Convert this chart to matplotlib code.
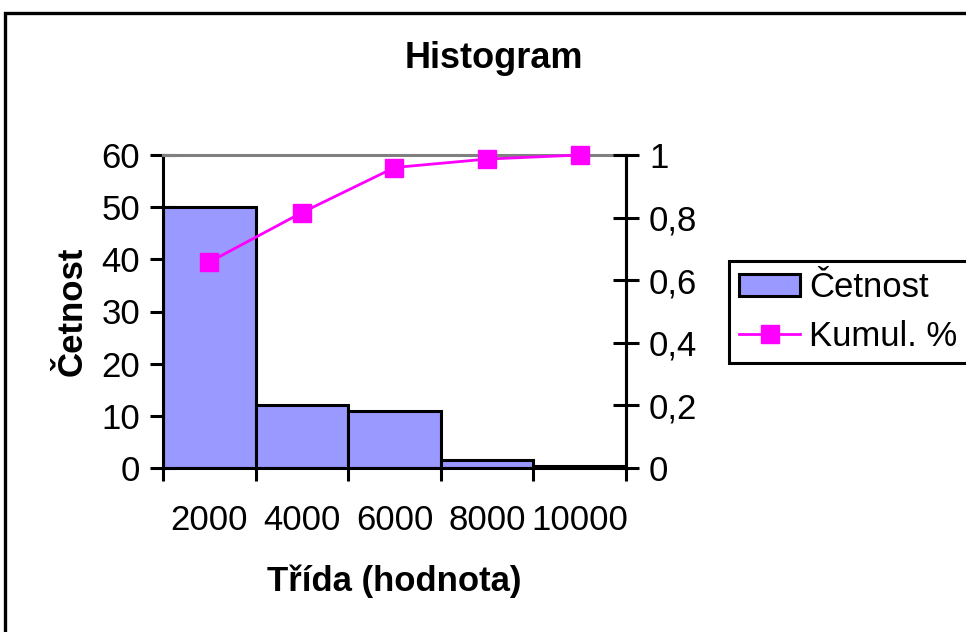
import matplotlib
matplotlib.use("Agg")
import matplotlib.pyplot as plt
from matplotlib.patches import Rectangle, Patch
from matplotlib.lines import Line2D

plt.rcParams['font.family'] = ['Liberation Sans', 'DejaVu Sans']

# Histogram data
classes = ["2000", "4000", "6000", "8000", "10000"]
counts = [50, 12, 11, 1.5, 0.4]
cumulative = [0.658, 0.816, 0.96, 0.987, 1.0]
left_ticks = [0, 10, 20, 30, 40, 50, 60]
right_ticks = [0, 0.2, 0.4, 0.6, 0.8, 1.0]
right_labels = ["0", "0,2", "0,4", "0,6", "0,8", "1"]

W, H = 966, 632
fig = plt.figure(figsize=(W / 100, H / 100), dpi=100)
FS = 25

# outer chart frame
fig.patches.append(Rectangle((5 / W, -0.1), 1.2, 1 - 13 / H + 0.1,
                             transform=fig.transFigure, fill=False,
                             edgecolor="black", linewidth=2.4))

x0, x1, y0, y1 = 163, 626, 155, 468
ax = fig.add_axes([x0 / W, 1 - y1 / H, (x1 - x0) / W, (y1 - y0) / H])
pos = list(range(len(classes)))
ax.bar(pos, counts, width=1.0, color="#9999FF", edgecolor="black",
       linewidth=2.2, zorder=2)
ax.set_xlim(-0.5, len(classes) - 0.5)
ax.set_ylim(0, 60)
ax.set_yticks(left_ticks)
ax.tick_params(axis="y", direction="inout", length=19, width=2.2,
               labelsize=FS, pad=7)
ax.set_xticks(pos)
ax.set_xticklabels(classes)
ax.set_xticks([p - 0.5 for p in pos] + [len(classes) - 0.5], minor=True)
ax.tick_params(axis="x", which="major", length=0, labelsize=FS, pad=26)
ax.tick_params(axis="x", which="minor", direction="out", length=9, width=2.2)
for s in ("left", "bottom", "right"):
    ax.spines[s].set_linewidth(2.2)
ax.spines["top"].set_color("#808080")
ax.spines["top"].set_linewidth(2.2)
ax.set_ylabel("Četnost", fontsize=FS, fontweight="bold", labelpad=9)
ax.set_xlabel("Třída (hodnota)", fontsize=FS, fontweight="bold", labelpad=20)

ax2 = ax.twinx()
ax2.plot(pos, cumulative, color="#FF00FF", linewidth=2, marker="s",
         markersize=13, zorder=3, clip_on=False)
ax2.set_ylim(0, 1)
ax2.set_yticks(right_ticks)
ax2.set_yticklabels(right_labels)
ax2.tick_params(axis="y", direction="inout", length=19, width=2.2,
                labelsize=FS, pad=7)
for s in ax2.spines.values():
    s.set_visible(False)
ax2.spines["right"].set_visible(True)
ax2.spines["right"].set_linewidth(2.2)

fig.text(494 / W, 1 - 58 / H, "Histogram", fontsize=26, fontweight="bold",
         ha="center", va="center")

handles = [Patch(facecolor="#9999FF", edgecolor="black", linewidth=2.2),
           Line2D([], [], color="#FF00FF", linewidth=2, marker="s",
                  markersize=13)]
leg = fig.legend(handles, ["Četnost", "Kumul. %"], loc="upper left",
                 bbox_to_anchor=(729 / W, 1 - 261 / H), borderaxespad=0,
                 fontsize=FS, frameon=True, fancybox=False,
                 handlelength=1.75, handleheight=0.6, handletextpad=0.25,
                 labelspacing=0.45, borderpad=0.3)
leg.get_frame().set_edgecolor("black")
leg.get_frame().set_linewidth(2.2)
leg.get_frame().set_alpha(None)

fig.savefig("out.png", dpi=100)
